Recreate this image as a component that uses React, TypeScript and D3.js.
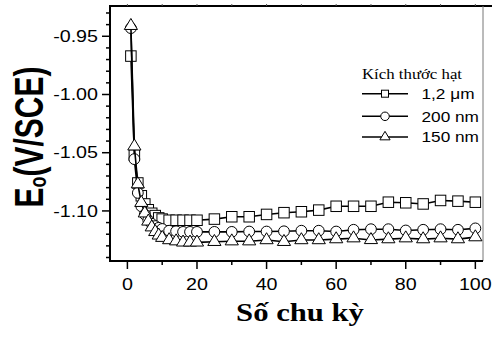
import * as d3 from "d3";

const cycles = [1, 2, 3, 4, 5, 6, 7, 8, 9, 10, 12, 14, 16, 18, 20, 25, 30, 35, 40, 45, 50, 55, 60, 65, 70, 75, 80, 85, 90, 95, 100];
const micron = [-0.967, -1.052, -1.076, -1.087, -1.094, -1.099, -1.102, -1.104, -1.106, -1.107, -1.108, -1.108, -1.108, -1.108, -1.108,
  -1.107, -1.105, -1.105, -1.103, -1.1015, -1.1007, -1.0993, -1.096, -1.096, -1.096, -1.0925, -1.093, -1.094, -1.091, -1.0916, -1.0925];
const nm200 = [-0.943, -1.0555, -1.0845, -1.096, -1.103, -1.108, -1.111, -1.113, -1.1145, -1.1155, -1.117, -1.1175, -1.118, -1.118, -1.118,
  -1.118, -1.118, -1.1177, -1.1177, -1.1175, -1.117, -1.117, -1.1177, -1.1162, -1.1157, -1.1157, -1.1168, -1.1162, -1.1157, -1.1162, -1.115];
const nm150 = [-0.941, -1.0445, -1.077, -1.093, -1.102, -1.109, -1.114, -1.118, -1.121, -1.123, -1.125, -1.126, -1.127, -1.127, -1.127,
  -1.1265, -1.126, -1.126, -1.125, -1.1265, -1.125, -1.125, -1.1242, -1.1234, -1.1249, -1.1242, -1.1234, -1.1242, -1.1234, -1.1242, -1.1225];

const seriesNames = ["1,2 \u03bcm", "200 nm", "150 nm"];
const seriesShapes = ["square", "circle", "triangle"];
const legendTitle = "K\u00edch th\u01b0\u1edbc h\u1ea1t";

const xMajor = [0, 20, 40, 60, 80, 100];
const xMinor = [10, 30, 50, 70, 90];
const xTop = [0, 10, 20, 30, 40, 50, 60, 70, 80, 90, 100];
const yMajor = [-0.95, -1.0, -1.05, -1.1];
const yMinor = [-0.93, -0.94, -0.96, -0.97, -0.98, -0.99, -1.01, -1.02, -1.03, -1.04, -1.06, -1.07, -1.08, -1.09, -1.11, -1.12, -1.13, -1.14];

const W = 493;
const H = 337;
const x = d3.scaleLinear().domain([-5, 102.2]).range([110, 483]);
const y = d3.scaleLinear().domain([-1.143, -0.924]).range([261, 6]);

const SANS = "'Liberation Sans', Arial, sans-serif";
const SERIF = "'Liberation Serif', 'Times New Roman', serif";

function Marker({ shape, cx, cy, s }: { shape: string; cx: number; cy: number; s: number }) {
  const common = { fill: "#fff", stroke: "#000", strokeWidth: 1 };
  if (shape === "square") {
    return <rect x={cx - s / 2} y={cy - s / 2} width={s} height={s} {...common} />;
  }
  if (shape === "circle") {
    return <circle cx={cx} cy={cy} r={s / 2} {...common} />;
  }
  const w = s * 1.2;
  const h = s * 1.0;
  const d = `M${cx},${cy - (h * 2) / 3}L${cx + w / 2},${cy + h / 3}L${cx - w / 2},${cy + h / 3}Z`;
  return <path d={d} {...common} strokeLinejoin="miter" />;
}

export default function App() {
  const all = [micron, nm200, nm150];
  const line = d3
    .line<number>()
    .x((_, i) => x(cycles[i]))
    .y((v) => y(v));
  const sizes = [10.5, 10.8, 11];
  const legendY = [93.7, 116.3, 137];
  const legendSize = [7, 8.5, 8.5];

  return (
    <div style={{ position: "absolute", left: 0, top: 0 }}>
      <svg width={W} height={H} viewBox={`0 0 ${W} ${H}`} style={{ display: "block", background: "#fff" }}>
        {/* frame */}
        <line x1={x.range()[0]} x2={x.range()[1] + 9} y1={y.range()[1]} y2={y.range()[1]} stroke="#000" strokeWidth={2} />
        <line x1={x.range()[1]} x2={x.range()[1]} y1={y.range()[1]} y2={y.range()[0]} stroke="#777" strokeWidth={1} />
        {xTop.map((t) => (
          <line key={"tt" + t} x1={x(t)} x2={x(t)} y1={y.range()[1]} y2={y.range()[1] - 2} stroke="#555" strokeWidth={1} />
        ))}

        {/* x axis */}
        {xMajor.map((t) => (
          <g key={"xm" + t}>
            <line x1={x(t)} x2={x(t)} y1={261} y2={269} stroke="#000" strokeWidth={1.5} />
            <text transform={`translate(${x(t)},290) scale(1.23,1)`} textAnchor="middle" fontFamily={SANS} fontSize={16}>
              {t}
            </text>
          </g>
        ))}
        {xMinor.map((t) => (
          <line key={"xn" + t} x1={x(t)} x2={x(t)} y1={261} y2={265} stroke="#000" strokeWidth={1.5} />
        ))}

        {/* y axis */}
        {yMajor.map((t) => (
          <g key={"ym" + t}>
            <line x1={102} x2={110} y1={y(t)} y2={y(t)} stroke="#000" strokeWidth={1.5} />
            <text transform={`translate(98,${y(t) + 5.7}) scale(1.23,1)`} textAnchor="end" fontFamily={SANS} fontSize={16}>
              {t.toFixed(2)}
            </text>
          </g>
        ))}
        {yMinor.map((t) => (
          <line key={"yn" + t} x1={106} x2={110} y1={y(t)} y2={y(t)} stroke="#000" strokeWidth={1.5} />
        ))}
        <line x1={x.range()[0]} x2={x.range()[1]} y1={261} y2={261} stroke="#000" strokeWidth={2} />
        <line x1={110} x2={110} y1={y.range()[1] - 1} y2={262} stroke="#000" strokeWidth={2} />

        {/* series */}
        {all.map((vals, si) => (
          <g key={"s" + si}>
            <path d={line(vals) ?? ""} fill="none" stroke="#000" strokeWidth={1.6} />
            {vals.map((v, i) => (
              <Marker key={i} shape={seriesShapes[si]} cx={x(cycles[i])} cy={y(v)} s={sizes[si]} />
            ))}
          </g>
        ))}

        {/* legend */}
        <text transform="translate(362,79) scale(1.2,1)" fontFamily={SERIF} fontSize={14}>
          {legendTitle}
        </text>
        {seriesNames.map((n, i) => (
          <g key={"l" + i}>
            <line x1={362} x2={408} y1={legendY[i]} y2={legendY[i]} stroke="#000" strokeWidth={1.6} />
            <Marker shape={seriesShapes[i]} cx={385} cy={legendY[i]} s={legendSize[i]} />
            <text transform={`translate(421.5,${legendY[i] + 5.2}) scale(1.23,1)`} fontFamily={SANS} fontSize={14}>
              {n}
            </text>
          </g>
        ))}

        {/* axis titles */}
        <text transform="translate(300,321) scale(1.18,1)" textAnchor="middle" fontFamily={SERIF} fontWeight="bold" fontSize={26}>
          {"S\u1ed1 chu k\u1ef3"}
        </text>
        <text transform="translate(43,137) rotate(-90) scale(1,1.35)" textAnchor="middle" fontFamily={SANS} fontWeight="bold" fontSize={30}>
          E<tspan fontSize={18} dy={2}>o</tspan>
          <tspan dy={-2}>(V/SCE)</tspan>
        </text>
      </svg>
    </div>
  );
}
